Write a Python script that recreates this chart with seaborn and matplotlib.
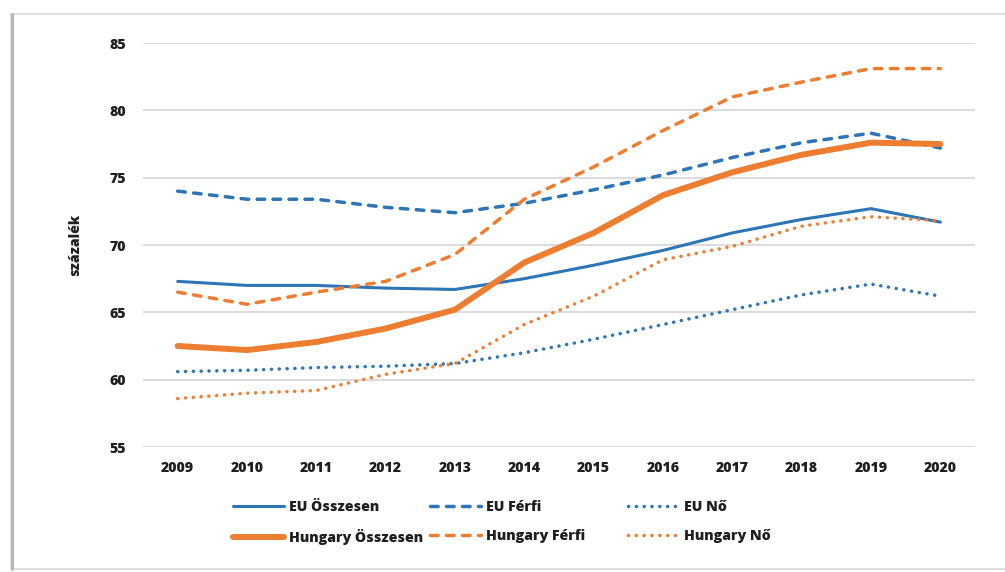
import matplotlib
matplotlib.use('Agg')
import matplotlib.pyplot as plt
import seaborn as sns
import pandas as pd
from matplotlib.patches import Rectangle
from matplotlib.lines import Line2D

# Data
years = [2009, 2010, 2011, 2012, 2013, 2014, 2015, 2016, 2017, 2018, 2019, 2020]
eu_total = [67.3, 67.0, 67.0, 66.8, 66.7, 67.5, 68.5, 69.6, 70.9, 71.9, 72.7, 71.7]
eu_men = [74.0, 73.4, 73.4, 72.8, 72.4, 73.1, 74.1, 75.2, 76.5, 77.6, 78.3, 77.2]
eu_women = [60.6, 60.7, 60.9, 61.0, 61.2, 62.0, 63.0, 64.1, 65.2, 66.3, 67.1, 66.2]
hu_total = [62.5, 62.2, 62.8, 63.8, 65.2, 68.7, 70.9, 73.7, 75.4, 76.7, 77.6, 77.5]
hu_men = [66.5, 65.6, 66.5, 67.3, 69.3, 73.4, 75.8, 78.5, 81.0, 82.1, 83.1, 83.1]
hu_women = [58.6, 59.0, 59.2, 60.4, 61.2, 64.1, 66.2, 68.9, 69.9, 71.4, 72.1, 71.8]

y_ticks = [55, 60, 65, 70, 75, 80, 85]

BLUE = '#2E75B6'
ORANGE = '#ED7D31'
TEXT = '#1F1F1F'
WEIGHT = 'heavy'
FS = 10.2

sns.set_style('white')
plt.rcParams['font.family'] = ['Open Sans', 'DejaVu Sans']
plt.rcParams['font.weight'] = WEIGHT
plt.rcParams['lines.dash_capstyle'] = 'round'
plt.rcParams['lines.solid_capstyle'] = 'round'

fig = plt.figure(figsize=(10.05, 5.72), dpi=100)
ax = fig.add_axes([0.1423, 0.2185, 0.8279, 0.7063])

# Frame around the chart (screenshot border)
fig.patches.append(Rectangle((11 / 1005, 1 - 569 / 572), 1.0, 555 / 572,
                             transform=fig.transFigure, fill=False,
                             edgecolor='#D9D9D9', lw=1.2, zorder=0))
fig.lines.append(Line2D([12 / 1005, 12 / 1005], [1 - 569 / 572, 1 - 14 / 572],
                        transform=fig.transFigure, color='#B8B8B8', lw=2.2))

dash = (2.2, 2.4)
dot = (0.05, 2.2)
series = [
    ('EU Összesen', eu_total, BLUE, 2.2, None),
    ('EU Férfi', eu_men, BLUE, 2.5, dash),
    ('EU Nő', eu_women, BLUE, 2.5, dot),
    ('Hungary Összesen', hu_total, ORANGE, 4.3, None),
    ('Hungary Férfi', hu_men, ORANGE, 2.5, dash),
    ('Hungary Nő', hu_women, ORANGE, 2.5, dot),
]

handles = {}
for name, vals, color, lw, dashes in series:
    df = pd.DataFrame({'year': years, 'value': vals})
    sns.lineplot(data=df, x='year', y='value', ax=ax, color=color, lw=lw)
    line = ax.get_lines()[-1]
    if dashes is not None:
        line.set_dashes(dashes)
    handles[name] = line

ax.set_xlim(2008.5, 2020.5)
ax.set_ylim(55, 85)
ax.set_yticks(y_ticks)
ax.set_xticks(years)
ax.set_xticklabels([str(y) for y in years])
ax.grid(axis='y', color='#D9D9D9', lw=1.3)
ax.grid(axis='x', visible=False)
for s in ax.spines.values():
    s.set_visible(False)
ax.tick_params(axis='both', length=0, labelsize=FS, colors=TEXT)
for lab in ax.get_xticklabels() + ax.get_yticklabels():
    lab.set_fontweight(WEIGHT)
ax.tick_params(axis='y', pad=12)
ax.tick_params(axis='x', pad=10)
ax.set_xlabel('')
ax.set_ylabel('százalék', fontsize=FS, fontweight=WEIGHT, color=TEXT, labelpad=20)

# Legend: three equal-width columns like the original
columns = [('EU Összesen', 'Hungary Összesen'),
           ('EU Férfi', 'Hungary Férfi'),
           ('EU Nő', 'Hungary Nő')]
col_x = [233, 430, 628]
for (a, b), x in zip(columns, col_x):
    leg = fig.legend([handles[a], handles[b]], [a, b], loc='upper left',
                     bbox_to_anchor=(x / 1005, 1 - 500 / 572), frameon=False,
                     handlelength=3.6, handletextpad=0.35, borderpad=0,
                     borderaxespad=0, labelspacing=1.05,
                     prop={'size': FS, 'weight': WEIGHT})
    for t in leg.get_texts():
        t.set_color(TEXT)

fig.savefig('out.png', dpi=100)
